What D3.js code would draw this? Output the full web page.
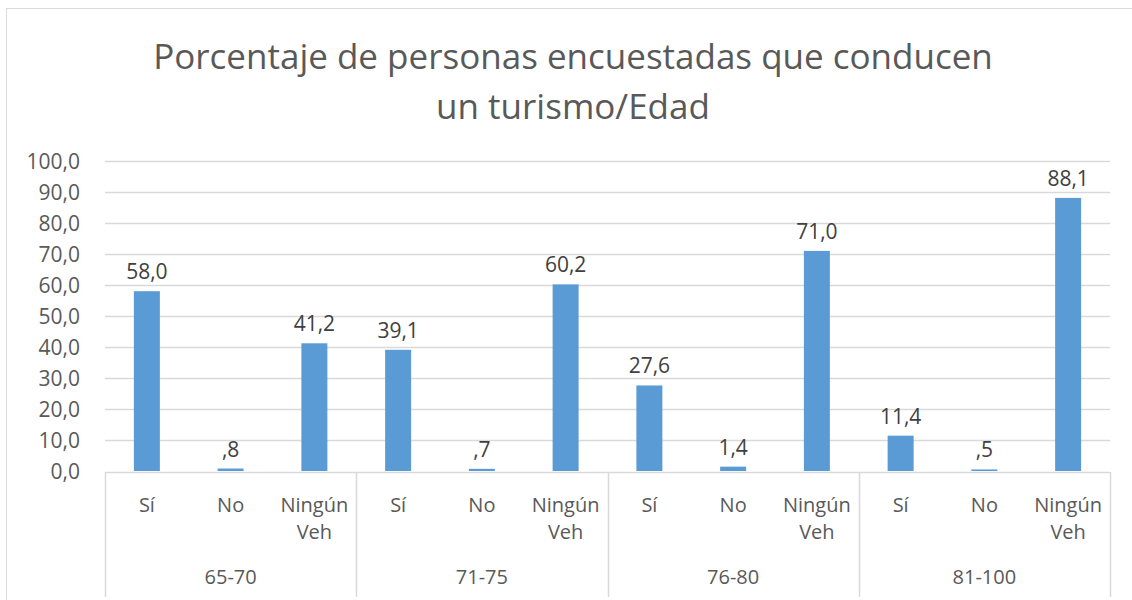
<!DOCTYPE html>
<html>
<head>
<meta charset="utf-8">
<script src="https://cdn.jsdelivr.net/npm/d3@7"></script>
<style>
  body { margin: 0; background: #fff; }
  text { font-family: "Open Sans", "Noto Sans", sans-serif; }
</style>
</head>
<body>
<div id="chart"></div>
<script>
// data
const groups = ["65-70", "71-75", "76-80", "81-100"];
const answers = ["Sí", "No", "Ningún Veh"];
const values = [
  [58.0, 0.8, 41.2],
  [39.1, 0.7, 60.2],
  [27.6, 1.4, 71.0],
  [11.4, 0.5, 88.1]
];
const yTicks = [0, 10, 20, 30, 40, 50, 60, 70, 80, 90, 100];
const titleLines = ["Porcentaje de personas encuestadas que conducen", "un turismo/Edad"];

const W = 1132, H = 600;
const plot = {left: 105, right: 1110, top: 161, bottom: 471};
const grey = "#d9d9d9", textCol = "#595959", barCol = "#5b9bd5";

const svg = d3.select("#chart").append("svg")
  .attr("width", W)
  .attr("height", H);

// chart frame
svg.append("rect")
  .attr("x", 6.5).attr("y", 8.5)
  .attr("width", W + 10).attr("height", H + 10)
  .attr("fill", "#fff")
  .attr("stroke", grey);

// title
svg.append("g").selectAll("text")
  .data(titleLines)
  .enter().append("text")
  .attr("x", 573)
  .attr("y", (d, i) => 69 + i * 50)
  .attr("text-anchor", "middle")
  .attr("font-size", 35)
  .attr("fill", textCol)
  .text(d => d);

// scales
const x0 = d3.scaleBand()
  .domain(groups)
  .range([plot.left, plot.right]);

const x1 = d3.scaleBand()
  .domain(answers)
  .range([0, x0.bandwidth()]);

const y = d3.scaleLinear()
  .domain([0, 100])
  .range([plot.bottom, plot.top]);

const fmt = v => {
  let s = v.toFixed(1).replace(".", ",");
  if (s.startsWith("0,") && v !== 0) s = s.slice(1);
  return s;
};

// gridlines
svg.append("g").selectAll("line")
  .data(yTicks.filter(d => d > 0))
  .enter().append("line")
  .attr("x1", plot.left).attr("x2", plot.right)
  .attr("y1", d => Math.round(y(d)) + 0.5)
  .attr("y2", d => Math.round(y(d)) + 0.5)
  .attr("stroke", grey)
  .attr("stroke-width", 1.3);

// y axis labels
const yAxis = d3.axisLeft(y)
  .tickValues(yTicks)
  .tickFormat(d => d.toFixed(1).replace(".", ","))
  .tickSize(0)
  .tickPadding(0);

const yg = svg.append("g")
  .attr("transform", `translate(80,0)`)
  .call(yAxis);
yg.select(".domain").remove();
yg.selectAll("text")
  .attr("font-size", 21)
  .attr("font-family", "'Open Sans', 'Noto Sans', sans-serif")
  .attr("fill", textCol)
  .attr("dy", "0.36em");

// bars
const flat = [];
groups.forEach((g, i) => answers.forEach((a, j) => flat.push({g: g, a: a, v: values[i][j]})));

const barW = 26;
svg.append("g").selectAll("rect")
  .data(flat)
  .enter().append("rect")
  .attr("x", d => x0(d.g) + x1(d.a) + x1.bandwidth() / 2 - barW / 2)
  .attr("y", d => y(d.v))
  .attr("width", barW)
  .attr("height", d => y(0) - y(d.v))
  .attr("fill", barCol);

// data labels
svg.append("g").selectAll("text")
  .data(flat)
  .enter().append("text")
  .attr("x", d => x0(d.g) + x1(d.a) + x1.bandwidth() / 2)
  .attr("y", d => y(d.v) - 12)
  .attr("text-anchor", "middle")
  .attr("font-size", 21)
  .attr("fill", "#404040")
  .text(d => fmt(d.v));

// category axis
const ax = svg.append("g");
ax.append("line")
  .attr("x1", plot.left).attr("x2", plot.right)
  .attr("y1", plot.bottom + 1.5).attr("y2", plot.bottom + 1.5)
  .attr("stroke", grey)
  .attr("stroke-width", 1.5);

ax.selectAll(".sep")
  .data(groups.map(g => x0(g)).concat([plot.right]))
  .enter().append("line")
  .attr("class", "sep")
  .attr("x1", d => Math.round(d) + 0.5).attr("x2", d => Math.round(d) + 0.5)
  .attr("y1", plot.bottom + 1).attr("y2", 597)
  .attr("stroke", grey)
  .attr("stroke-width", 1.5);

// sub-category labels
const sub = ax.selectAll(".sub")
  .data(flat)
  .enter().append("text")
  .attr("class", "sub")
  .attr("text-anchor", "middle")
  .attr("font-size", 20)
  .attr("fill", textCol)
  .attr("transform", d => `translate(${x0(d.g) + x1(d.a) + x1.bandwidth() / 2}, 512)`);

sub.selectAll("tspan")
  .data(d => d.a.split(" "))
  .enter().append("tspan")
  .attr("x", 0)
  .attr("dy", (d, i) => i === 0 ? 0 : 27)
  .text(d => d);

// group labels
ax.selectAll(".grp")
  .data(groups)
  .enter().append("text")
  .attr("class", "grp")
  .attr("x", d => x0(d) + x0.bandwidth() / 2)
  .attr("y", 584)
  .attr("text-anchor", "middle")
  .attr("font-size", 20)
  .attr("fill", textCol)
  .text(d => d);
</script>
</body>
</html>
